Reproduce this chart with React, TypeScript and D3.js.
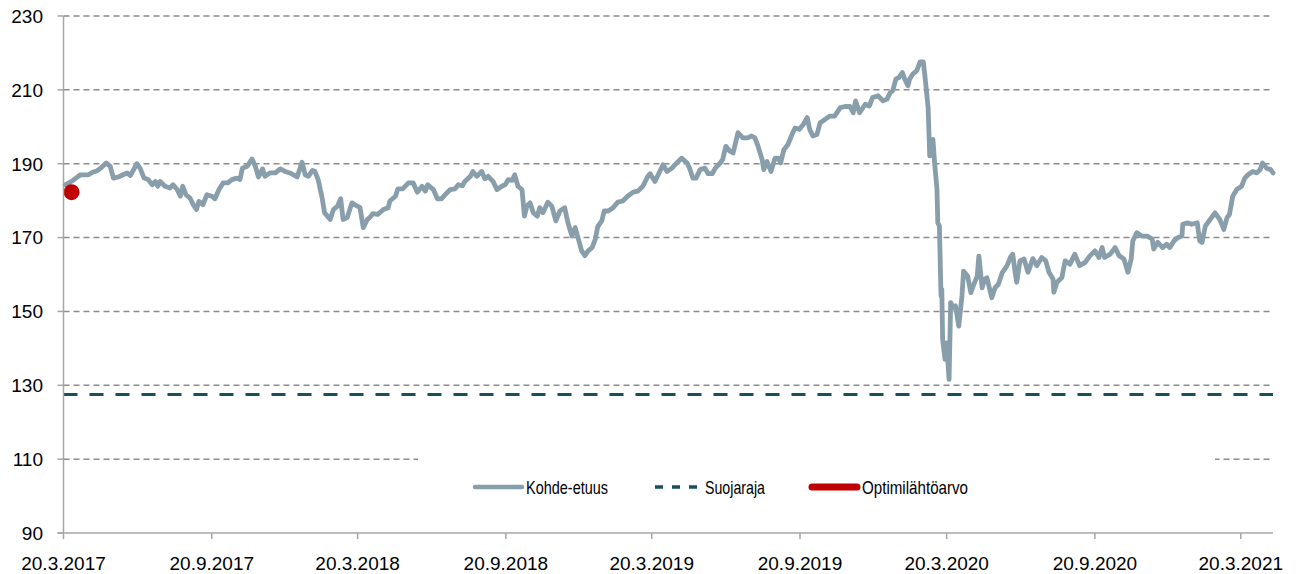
import React from 'react'
import * as d3 from 'd3'

// days after 20.3.2017 and index level
const dayOffsets = [
  2, 10, 21, 31, 36, 42, 46, 53, 58, 62, 68, 74, 79, 83, 86, 91, 95, 100, 105, 110,
  114, 117, 120, 126, 132, 136, 141, 145, 148, 152, 157, 161, 165, 168, 173, 178, 184, 188, 193, 198,
  204, 209, 215, 219, 222, 228, 234, 238, 242, 247, 250, 256, 263, 269, 275, 281, 290, 296, 300, 304,
  309, 312, 316, 321, 324, 331, 335, 340, 344, 347, 352, 358, 363, 368, 372, 377, 380, 384, 390, 397,
  403, 405, 412, 415, 421, 428, 434, 439, 445, 449, 452, 459, 464, 469, 474, 480, 486, 490, 495, 498,
  505, 508, 513, 519, 523, 527, 533, 538, 544, 548, 552, 557, 560, 564, 569, 572, 575, 579, 583, 588,
  591, 595, 601, 606, 611, 616, 622, 626, 631, 635, 639, 643, 647, 651, 656, 660, 663, 668, 671, 676,
  682, 688, 694, 700, 707, 713, 719, 725, 728, 734, 738, 744, 749, 755, 761, 767, 774, 777, 781, 785,
  790, 796, 800, 805, 809, 815, 818, 822, 827, 831, 837, 843, 849, 854, 858, 862, 867, 869, 873, 878,
  883, 887, 890, 894, 899, 904, 908, 913, 918, 923, 926, 930, 935, 939, 945, 951, 957, 964, 970, 976,
  980, 983, 988, 995, 1000, 1004, 1011, 1017, 1022, 1026, 1029, 1033, 1037, 1041, 1044, 1048, 1050, 1054, 1059, 1063,
  1067, 1069, 1073, 1075, 1079, 1081, 1084, 1085, 1087, 1089, 1090, 1091, 1094, 1096, 1099, 1101, 1104, 1107, 1111, 1115,
  1117, 1122, 1126, 1129, 1134, 1136, 1140, 1143, 1146, 1152, 1156, 1160, 1165, 1171, 1175, 1178, 1181, 1183, 1187, 1192,
  1197, 1203, 1208, 1214, 1219, 1223, 1228, 1229, 1233, 1239, 1243, 1249, 1255, 1261, 1268, 1274, 1280, 1285, 1289, 1292,
  1299, 1305, 1310, 1316, 1321, 1325, 1327, 1332, 1338, 1345, 1351, 1353, 1358, 1364, 1369, 1373, 1378, 1383, 1388, 1389,
  1395, 1400, 1407, 1410, 1413, 1417, 1423, 1429, 1435, 1440, 1444, 1447, 1451, 1456, 1462, 1466, 1470, 1476, 1481, 1485,
  1488, 1493, 1498, 1501,
]

const indexValues = [
  184.3, 185.2, 187.0, 187.0, 187.7, 188.1, 188.8, 190.2, 189.3, 186.1, 186.4, 187.0, 187.5, 186.8, 188.0, 190.0, 188.8, 186.1, 185.7, 184.3,
  185.2, 183.9, 185.2, 183.9, 183.4, 184.3, 183.0, 181.2, 183.9, 181.6, 180.7, 178.9, 177.6, 179.8, 178.9, 181.6, 181.2, 180.5, 183.0, 184.8,
  184.8, 185.7, 186.1, 185.7, 188.8, 189.3, 191.3, 189.3, 186.4, 188.6, 186.6, 187.5, 187.5, 188.6, 187.9, 187.5, 186.4, 190.4, 187.0, 186.6,
  188.2, 187.9, 185.7, 180.7, 176.7, 174.9, 177.6, 178.5, 180.5, 174.9, 175.4, 179.4, 178.7, 178.1, 172.7, 174.9, 175.4, 176.5, 176.3, 177.6,
  178.1, 179.9, 181.2, 183.2, 183.2, 184.8, 184.8, 182.3, 183.9, 182.6, 184.3, 183.0, 180.5, 180.5, 181.7, 183.0, 183.2, 184.3, 184.0, 185.2,
  186.6, 187.9, 186.6, 187.9, 185.9, 186.6, 185.2, 183.0, 183.9, 184.3, 185.7, 185.5, 187.0, 183.9, 183.0, 175.8, 178.5, 179.4, 176.7, 175.8,
  178.1, 176.7, 179.6, 178.5, 174.5, 177.2, 178.1, 174.0, 170.4, 172.7, 169.6, 166.4, 165.1, 166.4, 167.3, 169.6, 173.0, 174.5, 177.2, 177.2,
  178.1, 179.6, 179.9, 181.2, 182.3, 182.6, 183.9, 186.5, 187.3, 185.2, 187.0, 189.7, 187.9, 188.8, 190.2, 191.5, 190.2, 188.8, 186.1, 186.1,
  188.4, 188.8, 187.3, 187.3, 188.8, 190.2, 191.1, 194.7, 193.4, 192.9, 198.4, 197.0, 197.0, 197.5, 197.0, 194.7, 191.1, 188.4, 190.6, 187.9,
  191.5, 191.5, 190.2, 193.8, 195.2, 197.9, 199.7, 199.3, 200.6, 202.5, 199.3, 197.5, 197.9, 201.1, 202.0, 202.9, 202.9, 205.2, 205.5, 205.5,
  203.8, 207.0, 203.8, 206.1, 205.6, 207.9, 208.4, 207.0, 207.5, 209.3, 209.7, 212.9, 213.4, 214.7, 212.9, 211.1, 212.9, 214.3, 215.2, 217.6,
  217.6, 213.8, 205.2, 192.1, 196.6, 190.3, 183.1, 174.0, 173.1, 154.2, 156.0, 142.4, 137.0, 141.5, 131.6, 152.4, 151.0, 151.5, 146.0, 154.2,
  160.9, 159.6, 155.1, 156.9, 159.6, 165.0, 156.4, 158.7, 159.1, 153.7, 156.4, 157.3, 160.5, 162.4, 164.6, 165.5, 160.6, 157.9, 163.7, 164.2,
  160.6, 164.3, 162.4, 164.6, 163.7, 160.6, 158.8, 155.2, 157.9, 159.2, 163.7, 162.8, 165.5, 162.4, 163.3, 165.1, 166.4, 164.6, 167.3, 164.6,
  165.5, 167.3, 165.1, 164.2, 160.6, 164.2, 169.1, 171.3, 170.4, 170.4, 169.6, 166.9, 168.7, 167.3, 168.2, 167.3, 169.1, 170.0, 170.4, 173.6,
  174.0, 173.6, 174.0, 169.1, 168.7, 173.1, 174.9, 176.7, 174.9, 172.2, 175.4, 176.3, 181.2, 183.0, 183.9, 186.1, 187.0, 187.9, 187.5, 188.4,
  190.2, 188.8, 188.4, 187.5,
]

const barrierLevel = 127.5
const optimumDay = 10
const optimumValue = 182.3

const yTicks = [90, 110, 130, 150, 170, 190, 210, 230]
const xTickLabels = [
  '20.3.2017', '20.9.2017', '20.3.2018', '20.9.2018', '20.3.2019',
  '20.9.2019', '20.3.2020', '20.9.2020', '20.3.2021',
]
const legendLabels = ['Kohde-etuus', 'Suojaraja', 'Optimilähtöarvo']

const width = 1296
const height = 574
const plotLeft = 63.5
const plotRight = 1273
const plotTop = 16
const plotBottom = 533

const lineColor = '#889eaa'
const barrierColor = '#17505f'
const dotColor = '#c00000'
const gridColor = '#8c8c8c'
const axisColor = '#a6a6a6'

const parseDate = d3.timeParse('%d.%m.%Y')
const startDate = parseDate('20.3.2017') as Date

const series = dayOffsets.map((d, i) => ({
  date: d3.timeDay.offset(startDate, d),
  value: indexValues[i],
}))

const xScale = d3.scaleTime()
  .domain([startDate, d3.timeDay.offset(startDate, 1501)])
  .range([plotLeft, plotRight])

const yScale = d3.scaleLinear()
  .domain([90, 230])
  .range([plotBottom, plotTop])

const linePath = d3.line<{ date: Date; value: number }>()
  .x(d => xScale(d.date))
  .y(d => yScale(d.value))
  .curve(d3.curveLinear)

const axisFont = '"Liberation Sans", Arial, sans-serif'

const Legend = () => {
  const y = 487
  const items = [
    { x1: 475, x2: 522, tx: 526, tw: 82, stroke: lineColor, w: 4.5, dash: undefined, cap: 'round' },
    { x1: 655, x2: 701, tx: 705, tw: 60, stroke: barrierColor, w: 3.5, dash: '8 9', cap: 'butt' },
    { x1: 812, x2: 857, tx: 862, tw: 106, stroke: dotColor, w: 7, dash: undefined, cap: 'round' },
  ]
  return (
    <g>
      <rect x={418} y={440} width={797} height={86} fill='#fff' />
      {items.map((it, i) => (
        <g key={i}>
          <line
            x1={it.x1}
            x2={it.x2}
            y1={y}
            y2={y}
            stroke={it.stroke}
            strokeWidth={it.w}
            strokeDasharray={it.dash}
            strokeLinecap={it.cap as any}
          />
          <text
            x={it.tx}
            y={y + 7}
            fontFamily={axisFont}
            fontSize={19}
            textLength={it.tw}
            lengthAdjust='spacingAndGlyphs'
            fill='#000'
          >
            {legendLabels[i]}
          </text>
        </g>
      ))}
    </g>
  )
}

const App = () => {
  const xTicks = xTickLabels.map(l => ({ label: l, date: parseDate(l) as Date }))
  return (
    <svg
      width={width}
      height={height}
      style={{ position: 'absolute', left: 0, top: 0, display: 'block', background: '#fff' }}
    >
      {yTicks.filter(t => t > 90).map(t => (
        <line
          key={t}
          x1={plotLeft}
          x2={plotRight}
          y1={yScale(t)}
          y2={yScale(t)}
          stroke={gridColor}
          strokeWidth={1.5}
          strokeDasharray='6 4'
        />
      ))}

      <Legend />

      <line
        x1={plotLeft}
        x2={plotRight}
        y1={yScale(barrierLevel)}
        y2={yScale(barrierLevel)}
        stroke={barrierColor}
        strokeWidth={3}
        strokeDasharray='14 12'
      />

      <path
        d={linePath(series) || ''}
        fill='none'
        stroke={lineColor}
        strokeWidth={4.8}
        strokeLinejoin='round'
        strokeLinecap='round'
      />

      <circle
        cx={xScale(d3.timeDay.offset(startDate, optimumDay))}
        cy={yScale(optimumValue)}
        r={8}
        fill={dotColor}
      />

      {/* axes */}
      <line x1={plotLeft} x2={plotLeft} y1={plotTop} y2={plotBottom} stroke={axisColor} strokeWidth={1.5} />
      <line x1={plotLeft - 6} x2={plotRight} y1={plotBottom} y2={plotBottom} stroke={axisColor} strokeWidth={1.5} />
      {yTicks.map(t => (
        <g key={t}>
          <line x1={plotLeft - 6} x2={plotLeft} y1={yScale(t)} y2={yScale(t)} stroke={axisColor} strokeWidth={1.5} />
          <text
            x={43}
            y={yScale(t)}
            dy='0.36em'
            textAnchor='end'
            fontFamily={axisFont}
            fontSize={19}
            fill='#000'
          >
            {t}
          </text>
        </g>
      ))}
      {xTicks.map(t => (
        <g key={t.label}>
          <line
            x1={xScale(t.date)}
            x2={xScale(t.date)}
            y1={plotBottom}
            y2={plotBottom + 6}
            stroke={axisColor}
            strokeWidth={1.5}
          />
          <text
            x={xScale(t.date)}
            y={569.5}
            textAnchor='middle'
            fontFamily={axisFont}
            fontSize={19}
            fill='#000'
          >
            {t.label}
          </text>
        </g>
      ))}
    </svg>
  )
}

export default App
